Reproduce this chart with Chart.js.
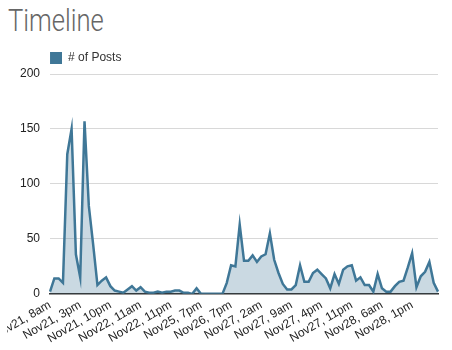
<!DOCTYPE html>
<html>
<head>
<meta charset="utf-8">
<script src="https://cdn.jsdelivr.net/npm/chart.js@4"></script>
<style>
    html, body { margin: 0; padding: 0; background: #fff; }
    #wrap { position: relative; width: 452px; height: 350px; overflow: hidden; }
    #title {
        position: absolute; left: 8px; top: 1px;
        font-family: Roboto, "Liberation Sans", Arial, sans-serif;
        font-size: 32px; font-weight: 300; color: #666;
        transform: scaleX(0.8); transform-origin: 0 0;
        white-space: nowrap;
    }
    /* the chart box starts a few px in; the first rotated label gets clipped at its edge, like the original */
    #chart-box { position: absolute; left: 7px; top: 0; width: 445px; height: 350px; overflow: hidden; }
    canvas { position: absolute; left: -17px; top: 0; }
</style>
</head>
<body>
<div id="wrap">
    <div id="title">Timeline</div>
    <div id="chart-box">
        <canvas id="timeline-chart" width="462" height="350"></canvas>
    </div>
</div>
<script>
// Hour buckets (only every 7th label is shown on the axis)
const hourLabels = [
    'Nov21, 8am', 'Nov21, 9am', 'Nov21, 10am', 'Nov21, 11am', 'Nov21, 12pm', 'Nov21, 1pm', 'Nov21, 2pm',
    'Nov21, 3pm', 'Nov21, 4pm', 'Nov21, 5pm', 'Nov21, 6pm', 'Nov21, 7pm', 'Nov21, 8pm', 'Nov21, 9pm',
    'Nov21, 10pm', 'Nov21, 11pm', 'Nov22, 12am', 'Nov22, 1am', 'Nov22, 7am', 'Nov22, 8am', 'Nov22, 10am',
    'Nov22, 11am', 'Nov22, 12pm', 'Nov22, 1pm', 'Nov22, 3pm', 'Nov22, 5pm', 'Nov22, 7pm', 'Nov22, 9pm',
    'Nov22, 11pm', 'Nov23, 2am', 'Nov23, 10am', 'Nov23, 4pm', 'Nov24, 1am', 'Nov24, 2pm', 'Nov25, 9am',
    'Nov25, 7pm', 'Nov25, 11pm', 'Nov26, 3am', 'Nov26, 8am', 'Nov26, 12pm', 'Nov26, 4pm', 'Nov26, 6pm',
    'Nov26, 7pm', 'Nov26, 8pm', 'Nov26, 9pm', 'Nov26, 10pm', 'Nov26, 11pm', 'Nov27, 12am', 'Nov27, 1am',
    'Nov27, 2am', 'Nov27, 3am', 'Nov27, 4am', 'Nov27, 5am', 'Nov27, 6am', 'Nov27, 7am', 'Nov27, 8am',
    'Nov27, 9am', 'Nov27, 10am', 'Nov27, 11am', 'Nov27, 12pm', 'Nov27, 1pm', 'Nov27, 2pm', 'Nov27, 3pm',
    'Nov27, 4pm', 'Nov27, 5pm', 'Nov27, 6pm', 'Nov27, 7pm', 'Nov27, 8pm', 'Nov27, 9pm', 'Nov27, 10pm',
    'Nov27, 11pm', 'Nov28, 12am', 'Nov28, 1am', 'Nov28, 2am', 'Nov28, 3am', 'Nov28, 4am', 'Nov28, 5am',
    'Nov28, 6am', 'Nov28, 7am', 'Nov28, 8am', 'Nov28, 9am', 'Nov28, 10am', 'Nov28, 11am', 'Nov28, 12pm',
    'Nov28, 1pm', 'Nov28, 2pm', 'Nov28, 3pm', 'Nov28, 4pm', 'Nov28, 5pm', 'Nov28, 6pm', 'Nov28, 7pm'
];

const postCounts = [
    2, 14, 14, 10, 127, 150, 36, 15, 157, 80, 45, 8, 12, 15,
    7, 3, 2, 1, 4, 7, 3, 6, 2, 1, 1, 2, 1, 2,
    2, 3, 3, 1, 1, 0, 5, 0, 0, 0, 0, 0, 0, 10,
    26, 25, 63, 30, 30, 35, 29, 34, 36, 55, 31, 19, 9, 4,
    4, 8, 26, 11, 11, 19, 22, 18, 14, 5, 18, 9, 22, 25,
    26, 12, 15, 8, 8, 2, 18, 5, 2, 2, 7, 11, 12, 24,
    37, 6, 16, 20, 29, 10, 2
];

const yTicks = [0, 50, 100, 150, 200];
const labelStep = 7;

const lineColor = '#3f7797';
const fillColor = 'rgba(63, 119, 151, 0.28)';
const tickFont = { family: 'Liberation Sans, Arial, sans-serif', size: 12 };

const ctx = document.getElementById('timeline-chart').getContext('2d');
const chart = new Chart(ctx, {
    type: 'line',
    data: {
        labels: hourLabels,
        datasets: [{
            label: '# of Posts',
            data: postCounts,
            borderColor: lineColor,
            backgroundColor: fillColor,
            borderWidth: 2.5,
            pointRadius: 0,
            tension: 0,
            fill: 'origin'
        }]
    },
    options: {
        responsive: false,
        animation: false,
        layout: {
            padding: { top: 52, right: 14, left: 0, bottom: 0 }
        },
        plugins: {
            legend: {
                display: true,
                position: 'top',
                align: 'start',
                fullSize: false,
                labels: {
                    boxWidth: 12,
                    boxHeight: 12,
                    color: '#333',
                    font: tickFont,
                    padding: 0,
                    generateLabels: (c) => {
                        // solid swatch instead of the default outlined one
                        return Chart.defaults.plugins.legend.labels.generateLabels(c).map(item => {
                            item.fillStyle = lineColor;
                            item.lineWidth = 0;
                            return item;
                        });
                    }
                }
            },
            tooltip: { enabled: false }
        },
        scales: {
            x: {
                grid: { display: false, drawTicks: false },
                border: { display: true, color: '#333', width: 1.5 },
                ticks: {
                    autoSkip: false,
                    minRotation: 30,
                    maxRotation: 30,
                    padding: 4,
                    color: '#222',
                    font: tickFont,
                    callback: function (value, index) {
                        return index % labelStep === 0 ? this.getLabelForValue(value) : null;
                    }
                }
            },
            y: {
                min: yTicks[0],
                max: yTicks[yTicks.length - 1],
                afterBuildTicks: (axis) => {
                    axis.ticks = yTicks.map(v => ({ value: v }));
                },
                afterFit: (axis) => {
                    axis.paddingTop = 0;
                },
                grid: { color: '#d8d8d8', drawTicks: false },
                border: { display: false },
                ticks: {
                    padding: 10,
                    color: '#222',
                    font: tickFont
                }
            }
        }
    }
});
</script>
</body>
</html>
